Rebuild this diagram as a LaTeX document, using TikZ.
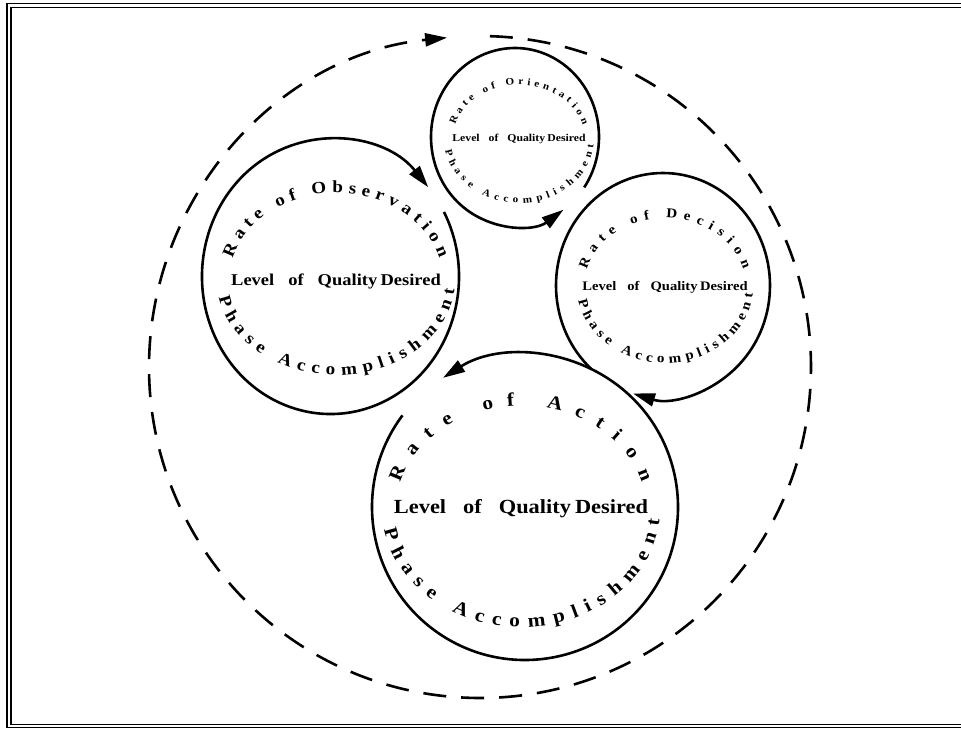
\documentclass[tikz,border=0pt]{standalone}
\usepackage{fontspec}
\newfontfamily\wa{Liberation Serif}[FakeStretch=1.12]
\usetikzlibrary{arrows.meta,decorations.text,calc}
\newcommand\wfont[1]{\wa\bfseries\fontsize{#1}{#1}\selectfont}
% #1,#2 text centre; #3,#4 top radii; #5,#6 bottom radii; #7 arc font; #8 middle font; #9 top words
\newcommand\ringtext[9]{%
  \path[decorate,decoration={text along path,text align={fit to path=true},
      text={|\wfont{#7}|#9}}]
    ($(#1,#2)+(195:{#3} and {#4})$) arc[start angle=195,end angle=345,x radius=#3,y radius=#4];
  \path[decorate,decoration={text along path,text align={fit to path=true},
      text={|\wfont{#7}|Phase Accomplishment}}]
    ($(#1,#2)+(170:{#5} and {#6})$) arc[start angle=170,end angle=5,x radius=#5,y radius=#6];
  \node[font=\wfont{#8},inner sep=0pt] at (#1,#2)
    {Level\hspace{0.85em}of\hspace{0.85em}Quality\hspace{0.2em}Desired};
}
\tikzset{
  ring/.style={line width=2.6pt},
  tip/.style={-{Triangle[length=22pt,width=13pt]}},
  loopline/.style={line width=2.6pt,dash pattern=on 23pt off 15pt}
}
\begin{document}
\begin{tikzpicture}[x=1pt,y=-1pt]
\useasboundingbox (0,0) rectangle (961,729);
\fill[white] (0,0) rectangle (961,729);
% frame
\draw[line width=1.8pt] (961,3.5) -- (7,3.5) -- (7,727.5) -- (961,727.5);
\draw[line width=1.2pt] (961,7.5) -- (11,7.5) -- (11,724.5) -- (961,724.5);
% centres
\coordinate (big) at (480,367);
\coordinate (obs) at (330.5,276.5);
\coordinate (ori) at (515,137);
\coordinate (dec) at (663,285.5);
\coordinate (act) at (525,507);
% outer dashed loop
\draw[loopline,tip] ($(big)+(271.7:331)$) arc[start angle=271.7,end angle=624.3,radius=331];
% the four rings
\draw[ring,tip] ($(obs)+(332:128.5 and 137.5)$) arc[start angle=332,end angle=679.5,x radius=128.5,y radius=137.5];
\draw[ring,tip] ($(ori)+(34.5:84 and 89)$) arc[start angle=34.5,end angle=-305.2,x radius=84,y radius=89];
\draw[ring,tip] ($(dec)+(132:107 and 112.5)$) arc[start angle=132,end angle=466.3,x radius=107,y radius=112.5];
\draw[ring,tip] ($(act)+(216.8:153)$) arc[start angle=216.8,end angle=-122.4,radius=153];
% texts
\ringtext{336}{281}{107}{88}{119}{94}{17}{16.5}{Rate of Observation}
\ringtext{519}{139}{66}{54}{75}{64}{10}{10.5}{Rate of Orientation}
\ringtext{665}{287}{81}{69}{88}{76}{13.5}{13}{Rate of Decision}
\ringtext{521}{509}{125}{103}{139}{118}{19}{20}{Rate of Action}
\end{tikzpicture}
\end{document}
